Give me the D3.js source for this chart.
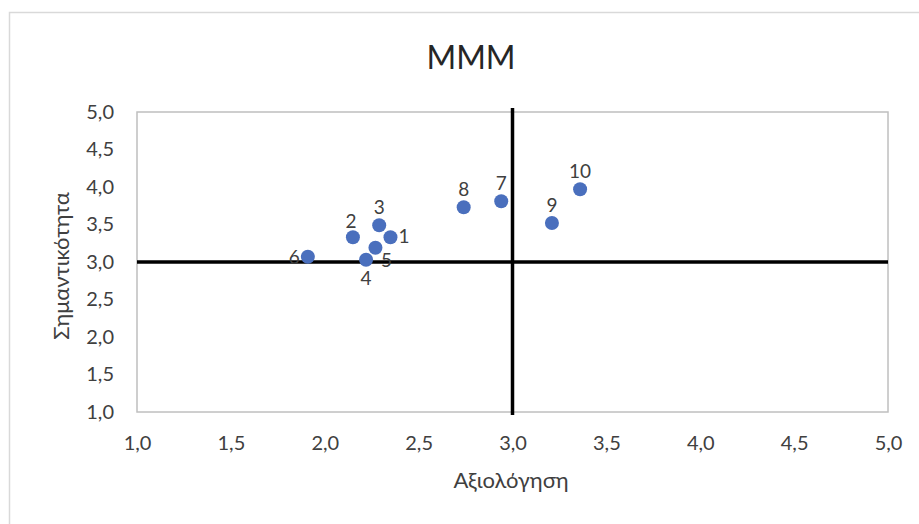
<!DOCTYPE html>
<html>
<head>
<meta charset="utf-8">
<script src="https://cdn.jsdelivr.net/npm/d3@7"></script>
<style>
  html, body { margin: 0; padding: 0; background: #fff; }
  svg { display: block; font-family: Lato, "Open Sans", sans-serif; }
</style>
</head>
<body>
<svg id="chart" width="919" height="524"></svg>
<script>
// Item numbers, ratings (x) and importance (y)
const labels = ["1", "2", "3", "4", "5", "6", "7", "8", "9", "10"];
const ratings = [2.35, 2.15, 2.29, 2.22, 2.27, 1.91, 2.94, 2.74, 3.21, 3.36];
const importance = [3.33, 3.33, 3.49, 3.03, 3.19, 3.07, 3.81, 3.73, 3.52, 3.97];
// Where each number sits relative to its point
const labelPos = ["right", "aboveLeft", "above", "below", "belowRight", "left", "above", "above", "above", "above"];
const tickValues = [1.0, 1.5, 2.0, 2.5, 3.0, 3.5, 4.0, 4.5, 5.0];
const title = "MMM";
const xTitle = "Αξιολόγηση";
const yTitle = "Σημαντικότητα";
const crossX = 3.0, crossY = 3.0;

const svg = d3.select("#chart");
const W = 919, H = 524;
const plot = { left: 137, top: 112, right: 888, bottom: 412 };

const x = d3.scaleLinear().domain([1, 5]).range([plot.left, plot.right]);
const y = d3.scaleLinear().domain([1, 5]).range([plot.bottom, plot.top]);
const fmt = v => d3.format(".1f")(v).replace(".", ",");

// Chart frame
svg.append("rect")
  .attr("x", 9.5).attr("y", 12.5).attr("width", W).attr("height", H)
  .attr("fill", "#fff").attr("stroke", "#d9d9d9").attr("stroke-width", 1.5);

// Title
svg.append("text")
  .attr("x", 471).attr("y", 69)
  .attr("text-anchor", "middle")
  .attr("font-size", 32).attr("fill", "#262626")
  .text(title);

// Plot area border
svg.append("rect")
  .attr("x", plot.left).attr("y", plot.top)
  .attr("width", plot.right - plot.left).attr("height", plot.bottom - plot.top)
  .attr("fill", "none").attr("stroke", "#bfbfbf").attr("stroke-width", 1.5);

// Axes (labels only, no domain lines or ticks)
const xAxis = svg.append("g")
  .attr("transform", `translate(0,${plot.bottom})`)
  .call(d3.axisBottom(x).tickValues(tickValues).tickFormat(fmt).tickSize(0).tickPadding(24));
const yAxis = svg.append("g")
  .attr("transform", `translate(${plot.left},0)`)
  .call(d3.axisLeft(y).tickValues(tickValues).tickFormat(fmt).tickSize(0).tickPadding(23));
[xAxis, yAxis].forEach(g => {
  g.select(".domain").remove();
  g.selectAll("text")
    .attr("font-family", "Lato, 'Open Sans', sans-serif")
    .attr("font-size", 20).attr("fill", "#404040");
});

// Axis titles
svg.append("text")
  .attr("x", 511).attr("y", 488)
  .attr("text-anchor", "middle")
  .attr("font-size", 22).attr("fill", "#404040")
  .text(xTitle);
svg.append("text")
  .attr("transform", `translate(69,${(plot.top + plot.bottom) / 2 + 4}) rotate(-90)`)
  .attr("text-anchor", "middle")
  .attr("font-size", 22).attr("fill", "#404040")
  .text(yTitle);

// Quadrant cross lines
svg.append("line")
  .attr("x1", x(crossX)).attr("x2", x(crossX))
  .attr("y1", plot.top - 4).attr("y2", plot.bottom + 3)
  .attr("stroke", "#000").attr("stroke-width", 3.5);
svg.append("line")
  .attr("x1", plot.left).attr("x2", plot.right)
  .attr("y1", y(crossY)).attr("y2", y(crossY))
  .attr("stroke", "#000").attr("stroke-width", 3.5);

// Points
const data = labels.map((l, i) => ({ label: l, x: ratings[i], y: importance[i], pos: labelPos[i] }));
svg.append("g").selectAll("circle")
  .data(data).join("circle")
  .attr("cx", d => x(d.x)).attr("cy", d => y(d.y))
  .attr("r", 7)
  .attr("fill", "#4a6fbd");

// Point numbers
const offsets = {
  right: [8, 6, "start"],
  left: [-8, 7, "end"],
  above: [0, -11, "middle"],
  aboveLeft: [-2, -9, "middle"],
  below: [0, 25, "middle"],
  belowRight: [11, 19, "middle"]
};
svg.append("g").selectAll("text")
  .data(data).join("text")
  .attr("x", d => x(d.x) + offsets[d.pos][0])
  .attr("y", d => y(d.y) + offsets[d.pos][1])
  .attr("text-anchor", d => offsets[d.pos][2])
  .attr("font-size", 19).attr("fill", "#404040")
  .text(d => d.label);
</script>
</body>
</html>
